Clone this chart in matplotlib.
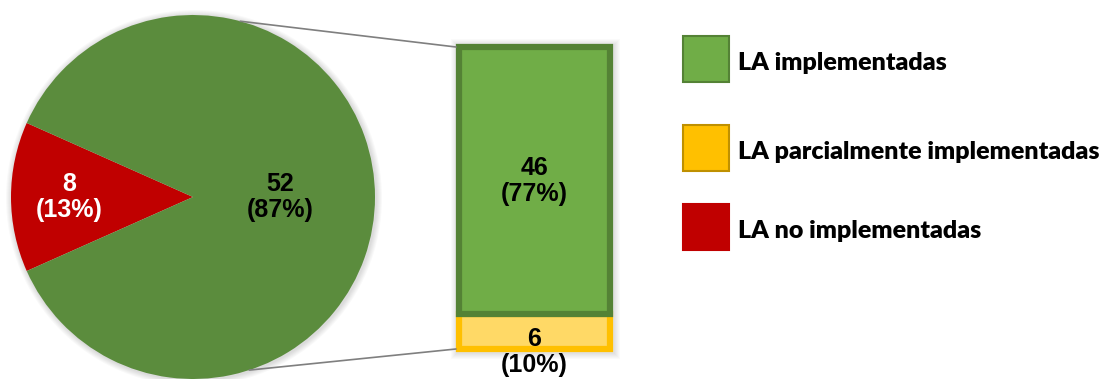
import matplotlib.pyplot as plt
from matplotlib.patches import Circle, Rectangle, ConnectionPatch
import numpy as np

# pie data: no implementadas vs. rest (which is split in the bar)
pie_values = [8, 52]
pie_labels = ["8\n(13%)", "52\n(87%)"]
pie_colors = ["#C00000", "#5B8C3D"]
pie_text_colors = ["white", "black"]

# bar of pie: breakdown of the 52
bar_values = [6, 46]
bar_labels = ["6\n(10%)", "46\n(77%)"]
bar_faces = ["#FFD966", "#70AD47"]
bar_edges = ["#FFC000", "#548235"]

legend_labels = ["LA implementadas", "LA parcialmente implementadas", "LA no implementadas"]
legend_faces = ["#70AD47", "#FFC000", "#C00000"]
legend_edges = ["#548235", "#BF9000", "#C00000"]

W, H = 1115, 379
fig = plt.figure(figsize=(W / 100, H / 100), dpi=100)

# main axes in pixel units (y up)
ax = fig.add_axes([0, 0, 1, 1])
cx, cy, r = 193, 182, 182

# soft shadow behind pie
for i in range(1, 7):
	ax.add_patch(Circle((cx + 1, cy - 1), r + i, color="black", alpha=0.025, lw=0, zorder=0))

half = 360 * pie_values[0] / sum(pie_values) / 2
wedges, _ = ax.pie(pie_values, colors=pie_colors, center=(cx, cy), radius=r,
				   startangle=180 - half, counterclock=True,
				   wedgeprops=dict(linewidth=0))
dists = [0.68, 0.48]
for w, lab, col, d in zip(wedges, pie_labels, pie_text_colors, dists):
	ang = np.deg2rad((w.theta1 + w.theta2) / 2)
	ax.text(cx + d * r * np.cos(ang), cy + d * r * np.sin(ang), lab, color=col,
			ha="center", va="center", fontsize=18, fontweight="bold",
			family="Liberation Sans", linespacing=1.1)

ax.set_xlim(0, W)
ax.set_ylim(0, H)
ax.set_aspect("auto")
ax.axis("off")

# bar of pie axes
bx0, bx1 = 459, 610
by_top, by_bot = 47, 349
ax2 = fig.add_axes([bx0 / W, (H - by_bot) / H, (bx1 - bx0) / W, (by_bot - by_top) / H])
ax2.set_xlim(-0.5, 0.5)
ax2.set_ylim(0, sum(bar_values))
ax2.axis("off")

bottom = 0
for v, lab, fc, ec in zip(bar_values, bar_labels, bar_faces, bar_edges):
	ax2.bar(0, v, width=1, bottom=bottom, color=fc, edgecolor=ec, linewidth=4.5,
			zorder=3, clip_on=False)
	bottom += v
# labels: small one sits on the lower edge like in the original
ax2.text(0, -0.5, bar_labels[0], ha="center", va="center", fontsize=18,
		 fontweight="bold", family="Liberation Sans", linespacing=1.1,
		 clip_on=False, zorder=5)
ax2.text(0, bar_values[0] + bar_values[1] / 2, bar_labels[1], ha="center", va="center",
		 fontsize=18, fontweight="bold", family="Liberation Sans", linespacing=1.1,
		 zorder=5)

# bar shadow
for i in range(1, 7):
	ax.add_patch(Rectangle((bx0 - 3 - i + 1, H - by_bot - 3 - i - 1), bx1 - bx0 + 6 + 2 * i,
						   by_bot - by_top + 6 + 2 * i, color="black", alpha=0.02, lw=0, zorder=0))

# connector lines
for a_deg, yb in [(75, sum(bar_values)), (-72, 0)]:
	a = np.deg2rad(a_deg)
	con = ConnectionPatch(xyA=(cx + r * np.cos(a), cy + r * np.sin(a)), coordsA=ax.transData,
						  xyB=(-0.5 - 0.02, yb), coordsB=ax2.transData,
						  color="#7F7F7F", linewidth=1.2)
	fig.add_artist(con)

# legend drawn by hand
ys = [35, 124, 203]
for y, lab, fc, ec in zip(ys, legend_labels, legend_faces, legend_edges):
	fig.patches.append(Rectangle((683 / W, (H - y - 47) / H), 46 / W, 46 / H,
								 transform=fig.transFigure, facecolor=fc, edgecolor=ec,
								 linewidth=1.5))
	fig.text(738 / W, (H - y - 28) / H, lab, ha="left", va="center", fontsize=18,
			 fontweight="heavy", family="Lato")

fig.savefig("out.png", dpi=100)
